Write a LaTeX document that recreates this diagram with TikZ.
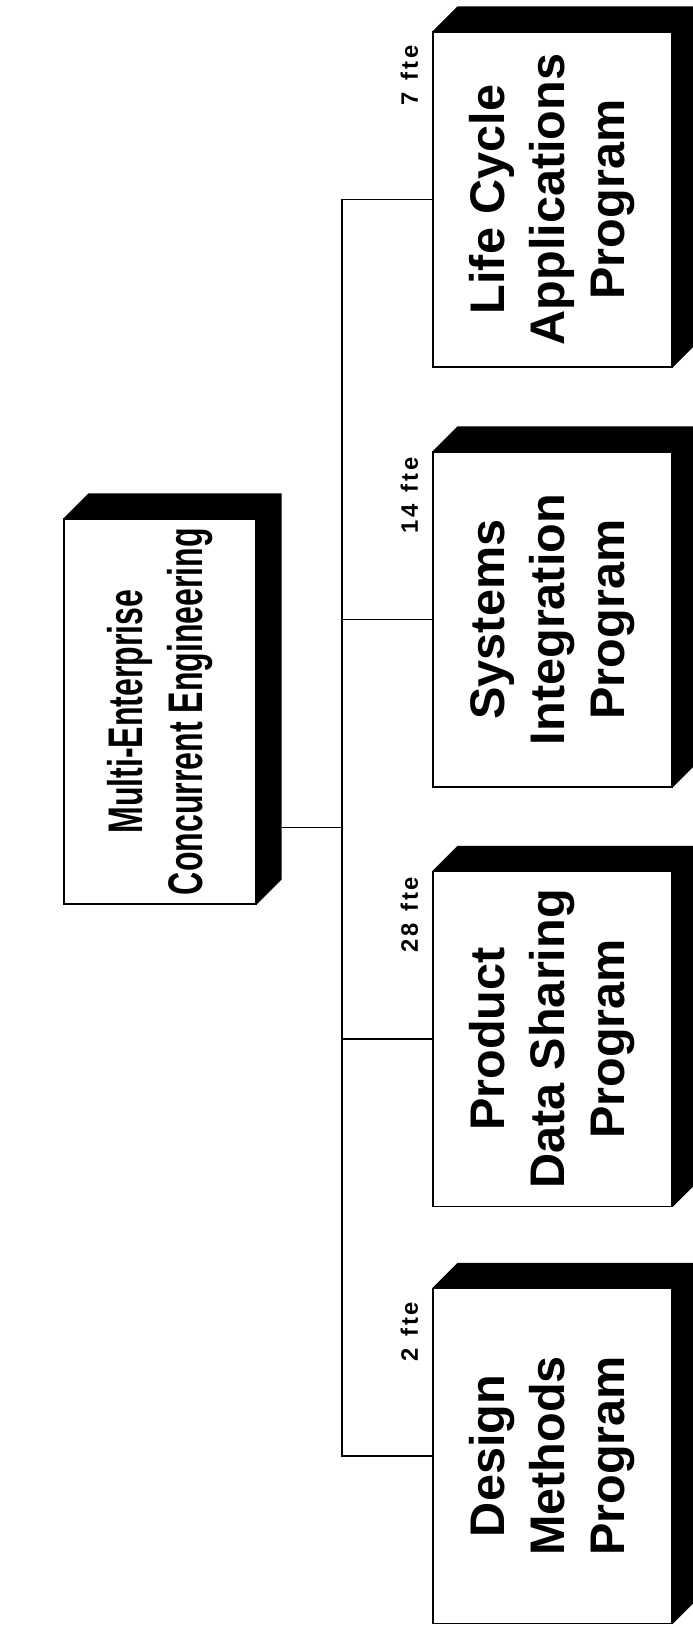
\documentclass[tikz,border=0pt]{standalone}
\usepackage{fontspec}
\setmainfont{Liberation Sans}
\newfontfamily\boxfont{Liberation Sans Bold}
\newfontfamily\lblfont{Liberation Sans Bold}[LetterSpace=12]

\tikzset{
  frontbox/.style={draw=black, line width=0.6pt, fill=white, inner sep=0pt},
  boxtext/.style={rotate=90, align=center, inner sep=0pt,
    font=\boxfont\fontsize{24.3}{30}\selectfont},
  ftelbl/.style={rotate=90, inner sep=0pt,
    font=\lblfont\fontsize{11.9}{14}\selectfont},
  link/.style={line width=0.6pt},
}

% black depth faces (top and right) of a box node
\newcommand\boxdepth[1]{%
  \fill (#1.north west) -- ++(25,-25) -- ([shift={(25,-25)}]#1.north east)
    -- ([shift={(25,-25)}]#1.south east) -- (#1.south east) -- (#1.north east) -- cycle;}

\begin{document}
\begin{tikzpicture}[x=0.5pt, y=-0.5pt]
  \useasboundingbox (0,0) rectangle (692,1627);
  \fill[white] (0,0) rectangle (692,1627);

  % root box
  \node[frontbox, minimum width=96pt, minimum height=192.5pt] (root) at (160,711.5) {};
  \boxdepth{root}
  \node[boxtext] (roottxt) at (root.center)
    {\scalebox{0.66}[1]{Multi-Enterprise}\\\scalebox{0.66}[1]{Concurrent Engineering}};

  % program boxes
  \node[frontbox, minimum width=119.5pt, minimum height=167.5pt] (life) at (552.5,199.5) {};
  \node[frontbox, minimum width=119.5pt, minimum height=167.5pt] (sys)  at (552.5,619.5) {};
  \node[frontbox, minimum width=119.5pt, minimum height=167.5pt] (prod) at (552.5,1039) {};
  \node[frontbox, minimum width=119.5pt, minimum height=167.5pt] (des)  at (552.5,1456) {};
  \boxdepth{life}
  \boxdepth{sys}
  \boxdepth{prod}
  \boxdepth{des}

  \node[boxtext] (lifetxt) at (life.center) {Life Cycle\\Applications\\Program};
  \node[boxtext] (systxt)  at (sys.center)  {Systems\\Integration\\Program};
  \node[boxtext] (prodtxt) at (prod.center) {Product\\Data Sharing\\Program};
  \node[boxtext] (destxt)  at (des.center)  {Design\\Methods\\Program};

  % staffing labels
  \node[ftelbl] (lifelbl) at ([shift={(-23,44)}]life.north west) {7\hspace{6pt}fte};
  \node[ftelbl] (syslbl)  at ([shift={(-23,44)}]sys.north west)  {14\hspace{6pt}fte};
  \node[ftelbl] (prodlbl) at ([shift={(-23,44)}]prod.north west) {28\hspace{6pt}fte};
  \node[ftelbl] (deslbl)  at ([shift={(-23,44)}]des.north west)  {2\hspace{6pt}fte};

  % connectors
  \coordinate (bus) at (342,827.75);
  \coordinate (rootedge) at ([xshift=12.5pt]root.east);
  \draw[link] (bus -| rootedge) -- (bus);
  \draw[link] (life.west) -- (life.west -| bus) -- (des.west -| bus) -- (des.west);
  \draw[link] (sys.west) -- (sys.west -| bus);
  \draw[link] (prod.west) -- (prod.west -| bus);
\end{tikzpicture}
\end{document}
